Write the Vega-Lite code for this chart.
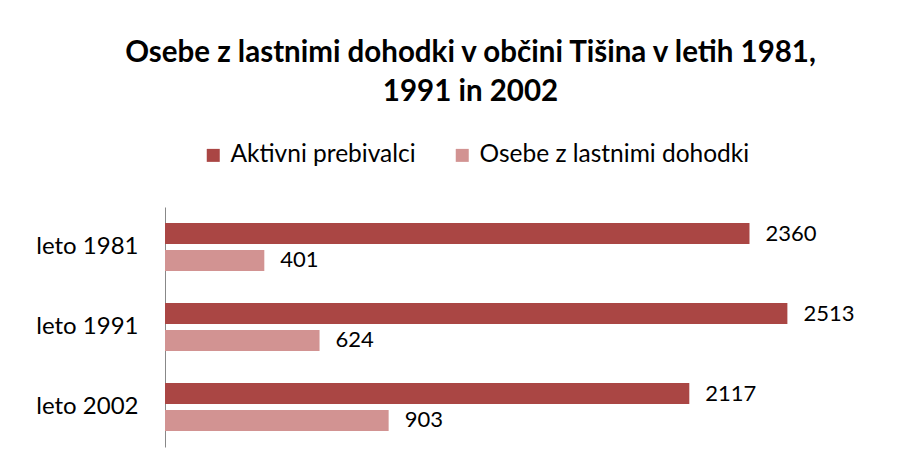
{
  "$schema": "https://vega.github.io/schema/vega-lite/v6.json",
  "width": 743,
  "height": 240,
  "autosize": "none",
  "padding": {"left": 165, "top": 207, "right": 15, "bottom": 21},
  "background": "white",
  "title": {
    "text": ["Osebe z lastnimi dohodki v občini Tišina v letih 1981,", "1991 in 2002"],
    "font": "Lato",
    "fontSize": 29.5,
    "fontWeight": "bold",
    "color": "#000000",
    "lineHeight": 39,
    "anchor": "middle",
    "frame": "group",
    "dx": -66,
    "offset": 36
  },
  "data": {
    "values": [
      {"leto": "leto 1981", "serija": "Aktivni prebivalci", "vrednost": 2360},
      {"leto": "leto 1981", "serija": "Osebe z lastnimi dohodki", "vrednost": 401},
      {"leto": "leto 1991", "serija": "Aktivni prebivalci", "vrednost": 2513},
      {"leto": "leto 1991", "serija": "Osebe z lastnimi dohodki", "vrednost": 624},
      {"leto": "leto 2002", "serija": "Aktivni prebivalci", "vrednost": 2117},
      {"leto": "leto 2002", "serija": "Osebe z lastnimi dohodki", "vrednost": 903}
    ]
  },
  "encoding": {
    "y": {
      "field": "leto",
      "type": "nominal",
      "scale": {"paddingInner": 0.4, "paddingOuter": 0.2},
      "axis": {
        "title": null,
        "ticks": false,
        "labelPadding": 27,
        "labelFont": "Lato",
        "labelFontSize": 24,
        "labelColor": "#000000",
        "domainColor": "#888888",
        "domainWidth": 1,
        "grid": false
      }
    },
    "yOffset": {
      "field": "serija",
      "type": "nominal",
      "scale": {"paddingInner": 0.22, "paddingOuter": 0}
    },
    "x": {
      "field": "vrednost",
      "type": "quantitative",
      "scale": {"domain": [0, 3000]},
      "axis": null
    }
  },
  "layer": [
    {
      "mark": {"type": "bar"},
      "encoding": {
        "color": {
          "field": "serija",
          "type": "nominal",
          "scale": {
            "domain": ["Aktivni prebivalci", "Osebe z lastnimi dohodki"],
            "range": ["#AA4644", "#D29392"]
          },
          "legend": {
            "title": null,
            "orient": "none",
            "direction": "horizontal",
            "legendX": 36,
            "legendY": -64,
            "symbolType": "square",
            "symbolSize": 169,
            "symbolStrokeWidth": 0,
            "labelFont": "Lato",
            "labelFontSize": 24.5,
            "labelColor": "#000000",
            "labelOffset": 5,
            "columnPadding": 34,
            "labelLimit": 400
          }
        }
      }
    },
    {
      "mark": {
        "type": "text",
        "align": "left",
        "baseline": "middle",
        "dx": 16,
        "font": "Lato",
        "fontSize": 22,
        "color": "#000000"
      },
      "encoding": {
        "text": {"field": "vrednost", "type": "quantitative"}
      }
    }
  ],
  "config": {
    "view": {"stroke": null}
  }
}
